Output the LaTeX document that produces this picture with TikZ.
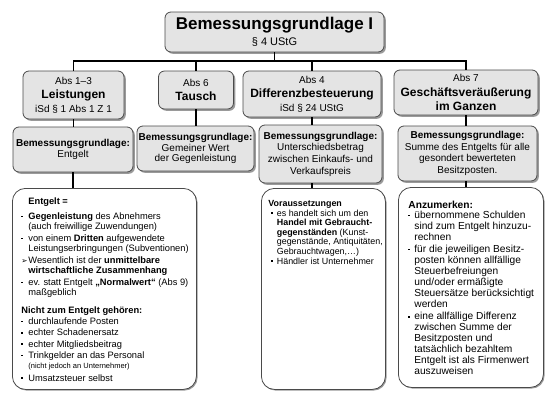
\documentclass[tikz,border=0pt]{standalone}
\usepackage{fontspec}
\setmainfont{Liberation Sans}
\newfontfamily\dejavu{DejaVu Sans}
\usetikzlibrary{shadows}
\definecolor{boxgray}{HTML}{E4E4E4}
\definecolor{edgegray}{HTML}{4A4A4A}
\definecolor{shadegray}{HTML}{9A9A9A}
\newcommand{\bul}{\raisebox{2.4pt}{\rule{1.8pt}{1.4pt}}}
\newcommand{\bi}[1][7pt]{\makebox[#1][l]{\bul}}
\newcommand{\ind}[1][7pt]{\hspace*{#1}}
\newcommand{\arr}{\makebox[7pt][l]{\dejavu\fontsize{7.5}{7}\selectfont ➢}}
\newcommand{\hd}[1]{{\fontsize{12}{14}\selectfont\bfseries #1}}
\begin{document}
\begin{tikzpicture}[x=1pt,y=-1pt,
  graybox/.style={draw=edgegray, line width=0.8pt, fill=boxgray, rounded corners=6pt, inner sep=0pt, align=center,
    drop shadow={shadow xshift=1.8pt, shadow yshift=-1.8pt, fill=shadegray, opacity=1}},
  whitebox/.style={draw=edgegray, line width=0.8pt, fill=white, rounded corners=13pt, inner sep=0pt, anchor=north west,
    drop shadow={shadow xshift=1.2pt, shadow yshift=-1.2pt, fill=shadegray, opacity=1}},
  link/.style={line width=1.3pt, black},
]
\useasboundingbox[fill=white] (0,0) rectangle (549,400);

% top
\node[graybox, minimum width=219pt, minimum height=40pt, font=\fontsize{11}{16}\selectfont] (top) at (274.5,32)
  {{\fontsize{17}{16}\selectfont\bfseries Bemessungsgrundlage I}\\§ 4 UStG};

% level 1
\node[graybox, minimum width=101pt, minimum height=48pt, font=\fontsize{10}{14}\selectfont] (L1a) at (73.5,95)
  {Abs 1–3\\\hd{Leistungen}\\iSd § 1 Abs 1 Z 1};
\node[graybox, minimum width=75pt, minimum height=38pt, font=\fontsize{10}{14}\selectfont] (L1b) at (196,90)
  {Abs 6\\\hd{Tausch}};
\node[graybox, minimum width=138pt, minimum height=46pt, font=\fontsize{10}{14}\selectfont] (L1c) at (312,94)
  {Abs 4\\\hd{Differenzbesteuerung}\\iSd § 24 UStG};
\node[graybox, minimum width=144pt, minimum height=45pt, font=\fontsize{10}{14.8}\selectfont] (L1d) at (466,92.5)
  {Abs 7\\\hd{Geschäftsveräußerung}\\\hd{im Ganzen}};

% level 2
\node[graybox, minimum width=120pt, minimum height=45pt, font=\fontsize{10}{11}\selectfont] (L2a) at (73,149.5)
  {\textbf{Bemessungsgrundlage:}\\Entgelt};
\node[graybox, minimum width=117pt, minimum height=45pt, font=\fontsize{10}{10.5}\selectfont] (L2b) at (195.5,148.5)
  {\textbf{Bemessungsgrundlage:}\\Gemeiner Wert\\der Gegenleistung};
\node[graybox, minimum width=123pt, minimum height=58pt, font=\fontsize{10}{11.7}\selectfont] (L2c) at (320.5,154)
  {\textbf{Bemessungsgrundlage:}\\Unterschiedsbetrag\\zwischen Einkaufs- und\\Verkaufspreis};
\node[graybox, minimum width=139pt, minimum height=55pt, font=\fontsize{10}{11.7}\selectfont] (L2d) at (467.5,153.5)
  {\textbf{Bemessungsgrundlage:}\\Summe des Entgelts für alle\\gesondert bewerteten\\Besitzposten.};

% level 3
\node[whitebox] (L3a) at (12,188) {\begin{minipage}[t][201pt][t]{184pt}
\raggedright\leftskip=9pt\fontsize{9.3}{10.2}\selectfont
\vspace*{9.5pt}
\ind\textbf{Entgelt =}\\[4.8pt]
\bi\textbf{Gegenleistung} des Abnehmers\\
\ind(auch freiwillige Zuwendungen)\\[1.5pt]
\bi von einem \textbf{Dritten} aufgewendete\\
\ind Leistungserbringungen (Subventionen)\\[1.5pt]
\arr Wesentlich ist der \textbf{unmittelbare}\\
\ind\textbf{wirtschaftliche Zusammenhang}\\[1.5pt]
\bi ev. statt Entgelt \textbf{„Normalwert“} (Abs 9)\\
\ind maßgeblich\\[7.8pt]
\textbf{Nicht zum Entgelt gehören:}\\[1pt]
\bi durchlaufende Posten\\[1pt]
\bi echter Schadenersatz\\[1pt]
\bi echter Mitgliedsbeitrag\\[1pt]
\bi Trinkgelder an das Personal\\
\ind{\fontsize{7.5}{8}\selectfont (nicht jedoch an Unternehmer)}\\[2.5pt]
\bi Umsatzsteuer selbst
\end{minipage}};

\node[whitebox] (L3c) at (261,188) {\begin{minipage}[t][201pt][t]{124pt}
\raggedright\leftskip=7pt\fontsize{8.9}{9.6}\selectfont
\vspace*{11.5pt}
\textbf{Voraussetzungen}\\[0.4pt]
\ind[3pt]\bi[5.5pt]es handelt sich um den\\
\ind[8.5pt]\textbf{Handel mit Gebraucht-}\\
\ind[8.5pt]\textbf{gegenständen} (Kunst-\\
\ind[8.5pt]gegenstände, Antiquitäten,\\
\ind[8.5pt]Gebrauchtwagen,…)\\
\ind[3pt]\bi[5.5pt]Händler ist Unternehmer
\end{minipage}};

\node[whitebox] (L3d) at (398,187) {\begin{minipage}[t][200pt][t]{145pt}
\raggedright\leftskip=10pt\fontsize{10.2}{10.85}\selectfont
\vspace*{13.5pt}
\textbf{Anzumerken:}\\[-0.8pt]
\bi[6pt]übernommene Schulden\\
\ind[6pt]sind zum Entgelt hinzuzu-\\
\ind[6pt]rechnen\\[2pt]
\bi[6pt]für die jeweiligen Besitz-\\
\ind[6pt]posten können allfällige\\
\ind[6pt]Steuerbefreiungen\\
\ind[6pt]und/oder ermäßigte\\
\ind[6pt]Steuersätze berücksichtigt\\
\ind[6pt]werden\\[2pt]
\bi[6pt]eine allfällige Differenz\\
\ind[6pt]zwischen Summe der\\
\ind[6pt]Besitzposten und\\
\ind[6pt]tatsächlich bezahltem\\
\ind[6pt]Entgelt ist als Firmenwert\\
\ind[6pt]auszuweisen
\end{minipage}};

% connectors
\coordinate (bus) at (0,61);
\draw[link] (top.south) -- (top.south |- bus);
\draw[link] (L1a.north) -- (L1a.north |- bus) -- (L1d.north |- bus) -- (L1d.north);
\draw[link] (L1b.north |- bus) -- (L1b.north);
\draw[link] (L1c.north |- bus) -- (L1c.north);
\draw[link] (L1a.south) -- (L1a.south |- L2a.north);
\draw[link] (L1b.south) -- (L1b.south |- L2b.north);
\draw[link] (L1c.south) -- (L1c.south |- L2c.north);
\draw[link] (L1d.south) -- (L1d.south |- L2d.north);
\draw[link] (L2a.south) -- (L2a.south |- L3a.north);
\draw[link] (L1c.south |- L2c.south) -- (L1c.south |- L3c.north);
\draw[link] (L1d.south |- L2d.south) -- (L1d.south |- L3d.north);
\end{tikzpicture}
\end{document}
